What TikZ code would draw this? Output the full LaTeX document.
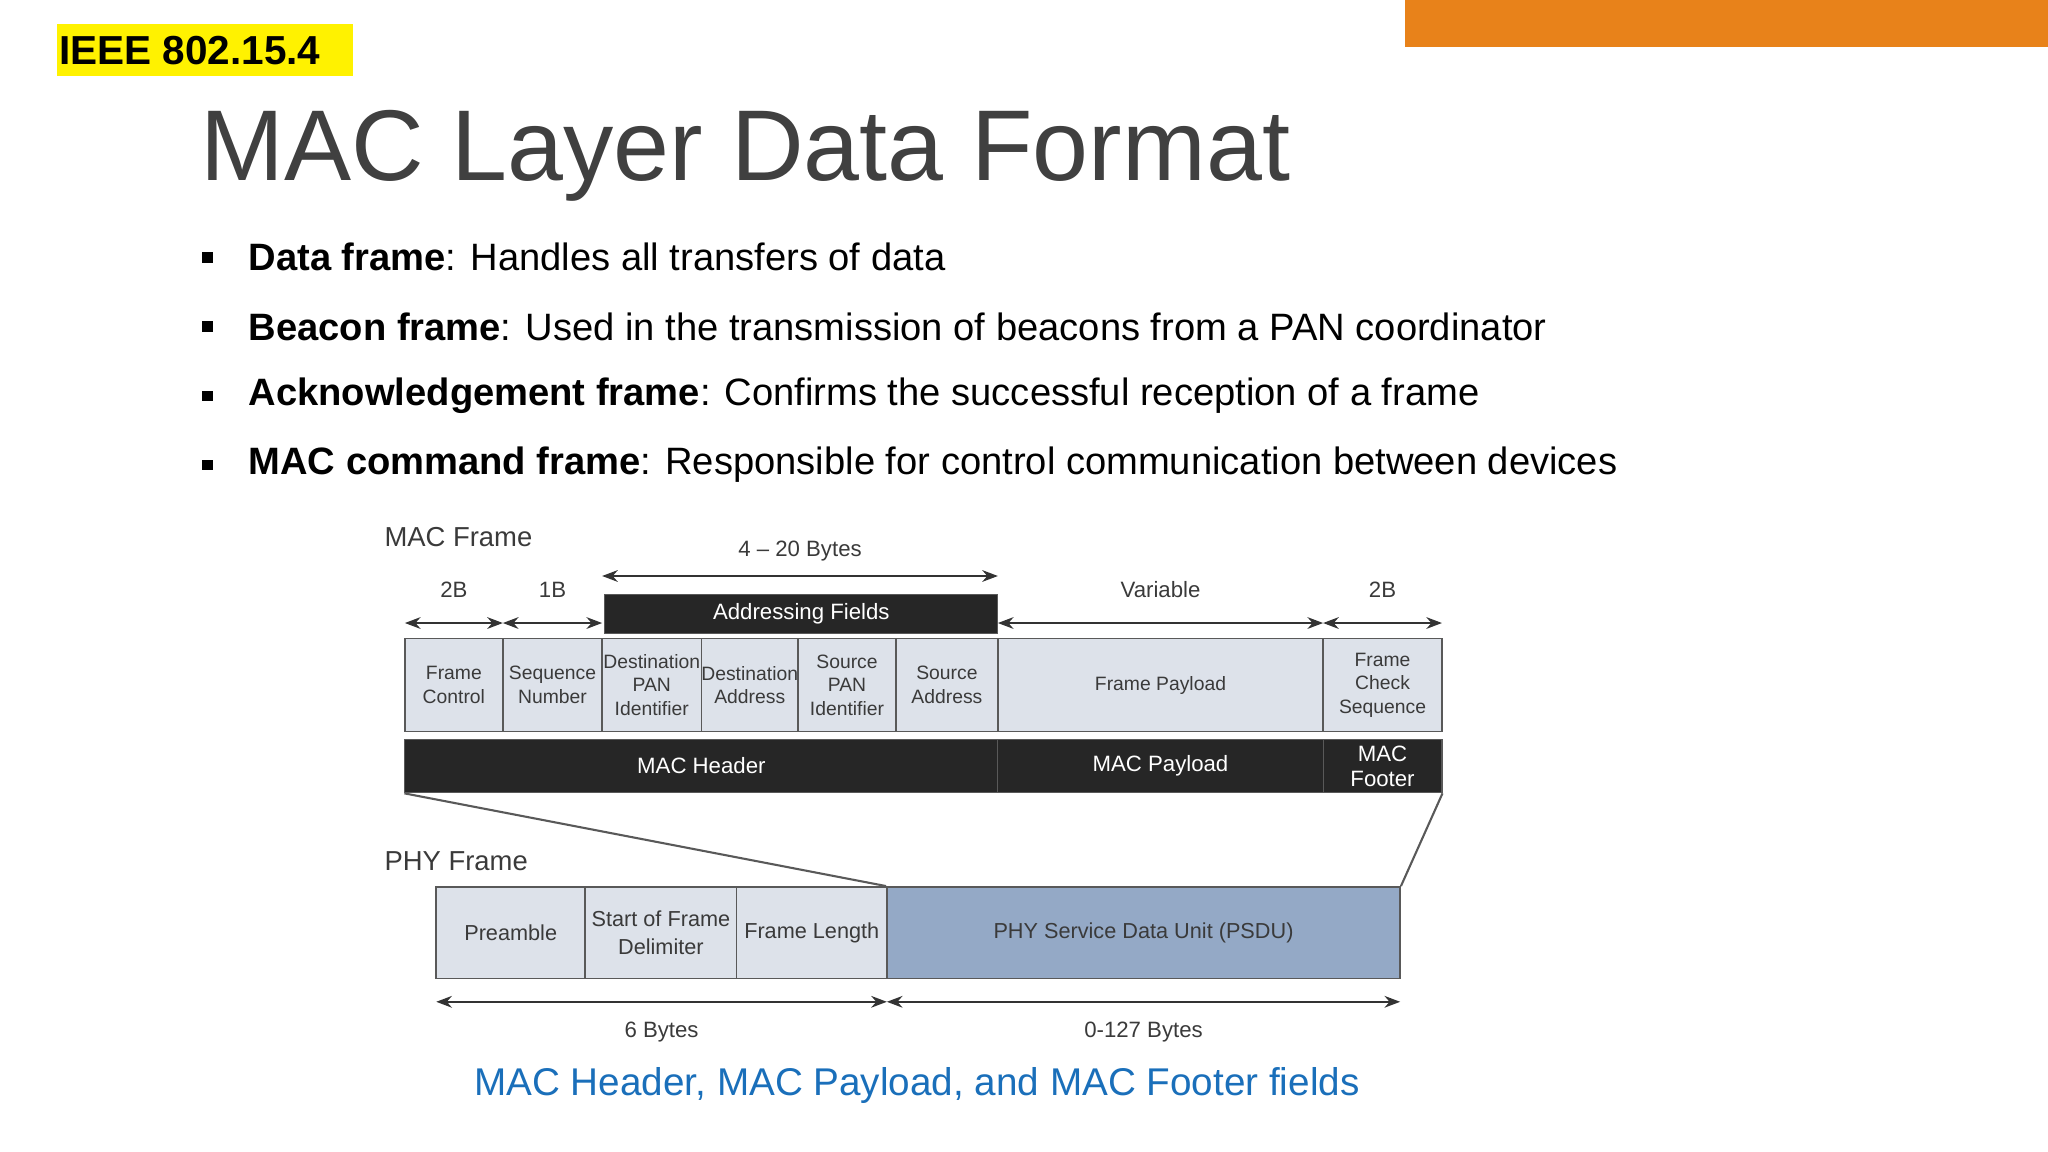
\documentclass[tikz,border=0pt]{standalone}
\usepackage{fontspec}
\setmainfont{Liberation Sans}
\usetikzlibrary{arrows.meta}
\definecolor{orng}{HTML}{E8821A}
\definecolor{ttl}{HTML}{404040}
\definecolor{cell}{HTML}{DDE2EA}
\definecolor{psdu}{HTML}{94A9C6}
\definecolor{capblue}{HTML}{1A6FBA}
\definecolor{dg}{HTML}{3A3A3A}
\tikzset{
 cellbox/.style={draw=gray!70!black,fill=cell,line width=0.6pt,align=center,font=\fontsize{7.4}{9}\selectfont,text=dg},
 blackbox/.style={draw=gray!70!black,fill=black!85,text=white,align=center,font=\fontsize{8.5}{9.5}\selectfont},
 dim/.style={{Stealth[length=6pt]}-{Stealth[length=6pt]},line width=0.7pt,black!80},
 dimlab/.style={font=\fontsize{8.5}{10}\selectfont,text=dg},
 bul/.style={anchor=west,font=\fontsize{14.6}{16}\selectfont},
 sq/.style={fill=black,minimum size=4pt,inner sep=0pt}
}
\begin{document}
\begin{tikzpicture}[x=0.5pt,y=-0.5pt]
\useasboundingbox (0,0) rectangle (1568,882);
\fill[orng] (1076,0) rectangle (1568,36);
\fill[yellow] (44,18) rectangle (270,58);
\node[anchor=west,inner xsep=0pt,font=\bfseries\fontsize{15.5}{17}\selectfont] (ieee) at (45,39) {IEEE 802.15.4};
\node[anchor=base west,inner xsep=0pt,text=ttl,font=\fontsize{38.5}{44}\selectfont] (title) at (153,138) {MAC Layer Data Format};
\foreach \y/\t in {197/{\textbf{Data frame}: Handles all transfers of data},
 250/{\textbf{Beacon frame}: Used in the transmission of beacons from a PAN coordinator},
 303/{\textbf{Acknowledgement frame}: Confirms the successful reception of a frame},
 356/{\textbf{MAC command frame}: Responsible for control communication between devices}}{
 \node[sq] at (159,\y) {};
 \node[bul,inner xsep=0pt] at (190,\y) {\t};
}
\node[anchor=west,inner xsep=0pt,text=dg,font=\fontsize{10.5}{12}\selectfont] (macf) at (294,411) {MAC Frame};
\node[anchor=west,inner xsep=0pt,text=dg,font=\fontsize{10.5}{12}\selectfont] (phyf) at (294,659) {PHY Frame};
% MAC cells
\foreach \a/\b/\t/\n in {310/385/{Frame\\Control}/c1,385/461/{Sequence\\Number}/c2,461/537/{Destination\\PAN\\Identifier}/c3,537/611/{Destination\\Address}/c4,611/686/{Source\\PAN\\Identifier}/c5,686/764/{Source\\Address}/c6,764/1013/{Frame Payload}/c7,1013/1104/{Frame\\Check\\Sequence}/c8}{
 \node[cellbox,minimum width={(\b-\a)*0.5pt},minimum height=35.5pt,inner sep=0pt] (\n) at ({(\a+\b)/2},524.5) {\t};
}
\foreach \a/\b/\t/\n in {310/764/{MAC Header}/h1,764/1013/{MAC Payload}/h2,1013/1104/{MAC\\Footer}/h3}{
 \node[blackbox,minimum width={(\b-\a)*0.5pt},minimum height=20.5pt,inner sep=0pt] (\n) at ({(\a+\b)/2},586.5) {\t};
}
\node[blackbox,minimum width=150.5pt,minimum height=15pt,inner sep=0pt] (addr) at (613.5,470) {Addressing Fields};
% dims
\coordinate (d1a) at (310,477); \coordinate (d1b) at (385,477);
\coordinate (d2b) at (461,477);
\coordinate (d3a) at (764,477); \coordinate (d3b) at (1013,477); \coordinate (d4b) at (1104,477);
\draw[dim] (d1a) -- node[dimlab,above=6pt]{2B} (d1b);
\draw[dim] (d1b) -- node[dimlab,above=6pt]{1B} (d2b);
\draw[dim] (d3a) -- node[dimlab,above=6pt]{Variable} (d3b);
\draw[dim] (d3b) -- node[dimlab,above=6pt]{2B} (d4b);
\coordinate (t1) at (461,441); \coordinate (t2) at (764,441);
\draw[dim] (t1) -- node[dimlab,above=2pt]{4 – 20 Bytes} (t2);
% PHY
\foreach \a/\b/\t/\n in {334/448/{Preamble}/p1,448/564/{Start of Frame\\Delimiter}/p2,564/679/{Frame Length}/p3}{
 \node[cellbox,font=\fontsize{8.3}{10.5}\selectfont,minimum width={(\b-\a)*0.5pt},minimum height=35pt,inner sep=0pt] (\n) at ({(\a+\b)/2},714) {\t};
}
\node[cellbox,fill=psdu,font=\fontsize{8.3}{10}\selectfont,minimum width=196.5pt,minimum height=35pt,inner sep=0pt] (p4) at (875.5,714) {PHY Service Data Unit (PSDU)};
\draw[gray!70!black,line width=0.8pt] (h1.south west) -- (p4.north west);
\draw[gray!70!black,line width=0.8pt] (h3.south east) -- (p4.north east);
\coordinate (b1) at (334,767); \coordinate (b2) at (679,767); \coordinate (b3) at (1072,767);
\draw[dim] (b1) -- node[dimlab,below=4pt]{6 Bytes} (b2);
\draw[dim] (b2) -- node[dimlab,below=4pt]{0-127 Bytes} (b3);
\node[text=capblue,font=\fontsize{14.8}{16}\selectfont] (cap) at (702,831) {MAC Header, MAC Payload, and MAC Footer fields};
\end{tikzpicture}
\end{document}
